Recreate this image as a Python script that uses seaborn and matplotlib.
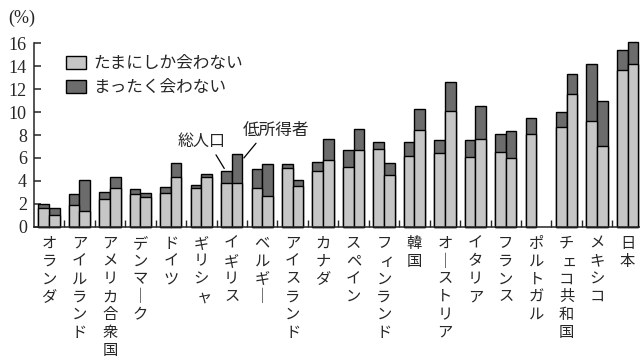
import numpy as np
import pandas as pd
import seaborn as sns
import matplotlib.pyplot as plt
from matplotlib.patches import Patch

countries = ['オランダ', 'アイルランド', 'アメリカ合衆国', 'デンマーク', 'ドイツ', 'ギリシャ',
             'イギリス', 'ベルギー', 'アイスランド', 'カナダ', 'スペイン', 'フィンランド',
             '韓国', 'オーストリア', 'イタリア', 'フランス', 'ポルトガル', 'チェコ共和国',
             'メキシコ', '日本']
groups = ['総人口', '低所得者']
series = ['たまにしか会わない', 'まったく会わない']

# 総人口
pop_tamani = [1.6, 1.9, 2.45, 2.85, 2.9, 3.4, 3.8, 3.35, 5.1, 4.9,
              5.2, 6.8, 6.2, 6.45, 6.05, 6.5, 8.1, 8.7, 9.2, 13.7]
pop_mattaku = [0.4, 0.95, 0.6, 0.45, 0.55, 0.2, 1.1, 1.65, 0.35, 0.75,
               1.5, 0.55, 1.15, 1.1, 1.55, 1.55, 1.4, 1.35, 5.0, 1.7]
# 低所得者 (ポルトガルはデータなし)
low_tamani = [1.0, 1.4, 3.35, 2.55, 4.3, 4.3, 3.8, 2.7, 3.55, 5.85,
              6.65, 4.55, 8.45, 10.1, 7.65, 5.95, np.nan, 11.6, 7.05, 14.2]
low_mattaku = [0.6, 2.65, 0.95, 0.4, 1.3, 0.3, 2.5, 2.75, 0.5, 1.8,
               1.85, 1.05, 1.85, 2.5, 2.9, 2.4, np.nan, 1.75, 3.9, 1.9]

yticks = [0, 2, 4, 6, 8, 10, 12, 14, 16]

light = '#c6c6c6'
dark = '#6c6c6c'

df = pd.DataFrame({
    'country': countries * 2,
    'group': [groups[0]] * len(countries) + [groups[1]] * len(countries),
    'tamani': pop_tamani + low_tamani,
    'mattaku': pop_mattaku + low_mattaku,
})
df['total'] = df['tamani'] + df['mattaku']

sns.set_style('ticks')
plt.rcParams['font.family'] = ['Noto Sans CJK JP', 'DejaVu Sans']

fig = plt.figure(figsize=(6.4, 3.58), dpi=100)
ax = fig.add_axes([33.8 / 640, 1 - 226.7 / 358, 609 / 640, (226.7 - 43.3) / 358])

sns.barplot(data=df, x='country', y='total', hue='group', order=countries, hue_order=groups,
            palette={g: dark for g in groups}, width=0.7, saturation=1, errorbar=None,
            edgecolor='black', linewidth=1.0, legend=False, ax=ax)
sns.barplot(data=df, x='country', y='tamani', hue='group', order=countries, hue_order=groups,
            palette={g: light for g in groups}, width=0.7, saturation=1, errorbar=None,
            edgecolor='black', linewidth=1.0, legend=False, ax=ax)
for p in ax.patches:
    p.set_clip_on(False)

ax.set_xlim(-0.5, len(countries) - 0.5)
ax.set_ylim(0, 16)
ax.set_xlabel('')
ax.set_ylabel('')
ax.set_yticks(yticks)
ax.set_yticklabels([str(v) for v in yticks], fontfamily='Liberation Serif', fontsize=13)
ax.tick_params(axis='y', direction='in', length=5, width=1.1, pad=5)
ax.set_xticks(range(len(countries)))
ax.set_xticklabels([])
ax.tick_params(axis='x', which='major', length=0)
ax.set_xticks(np.arange(0.5, len(countries) - 1, 1), minor=True)
ax.tick_params(axis='x', which='minor', direction='in', length=5, width=1.0)
sns.despine(ax=ax)
for s in ['left', 'bottom']:
    ax.spines[s].set_linewidth(1.1)

# vertical country labels
small = 'ァィゥェォッャュョ'
for i, name in enumerate(countries):
    for k, ch in enumerate(name):
        dx = 0
        if ch == 'ー':
            ch = '｜'
        if ch in small:
            dx = 2
        ax.annotate(ch, xy=(i, 0), xycoords=('data', 'axes fraction'),
                    xytext=(dx, -12 - k * 12.8), textcoords='offset points',
                    ha='center', va='center', fontsize=11, annotation_clip=False)

fig.text(8 / 640, 1 - 18 / 358, '(%)', fontfamily='Liberation Serif', fontsize=13,
         ha='left', va='center')

handles = [Patch(facecolor=light, edgecolor='black', linewidth=1.0),
           Patch(facecolor=dark, edgecolor='black', linewidth=1.0)]
fig.legend(handles, series, loc='upper left', bbox_to_anchor=(66 / 640, 1 - 55 / 358),
           frameon=False, fontsize=12, handlelength=1.2, handleheight=0.85,
           handletextpad=0.45, labelspacing=0.42, borderpad=0, borderaxespad=0)

uk = countries.index('イギリス')
pop_total = pop_tamani[uk] + pop_mattaku[uk]
low_total = low_tamani[uk] + low_mattaku[uk]
ax.annotate('総人口', xy=(uk - 0.245, pop_total + 0.18), xytext=(uk - 1.0, pop_total + 2.5),
            ha='center', va='center', fontsize=11.5,
            arrowprops=dict(arrowstyle='-', lw=0.9, color='black', relpos=(0.75, 0),
                            shrinkA=1, shrinkB=0))
ax.annotate('低所得者', xy=(uk + 0.40, low_total - 0.3), xytext=(uk + 1.44, low_total + 2.1),
            ha='center', va='center', fontsize=12,
            arrowprops=dict(arrowstyle='-', lw=0.9, color='black', relpos=(0.26, 0),
                            shrinkA=1, shrinkB=0))

fig.savefig('out.png', dpi=100)
